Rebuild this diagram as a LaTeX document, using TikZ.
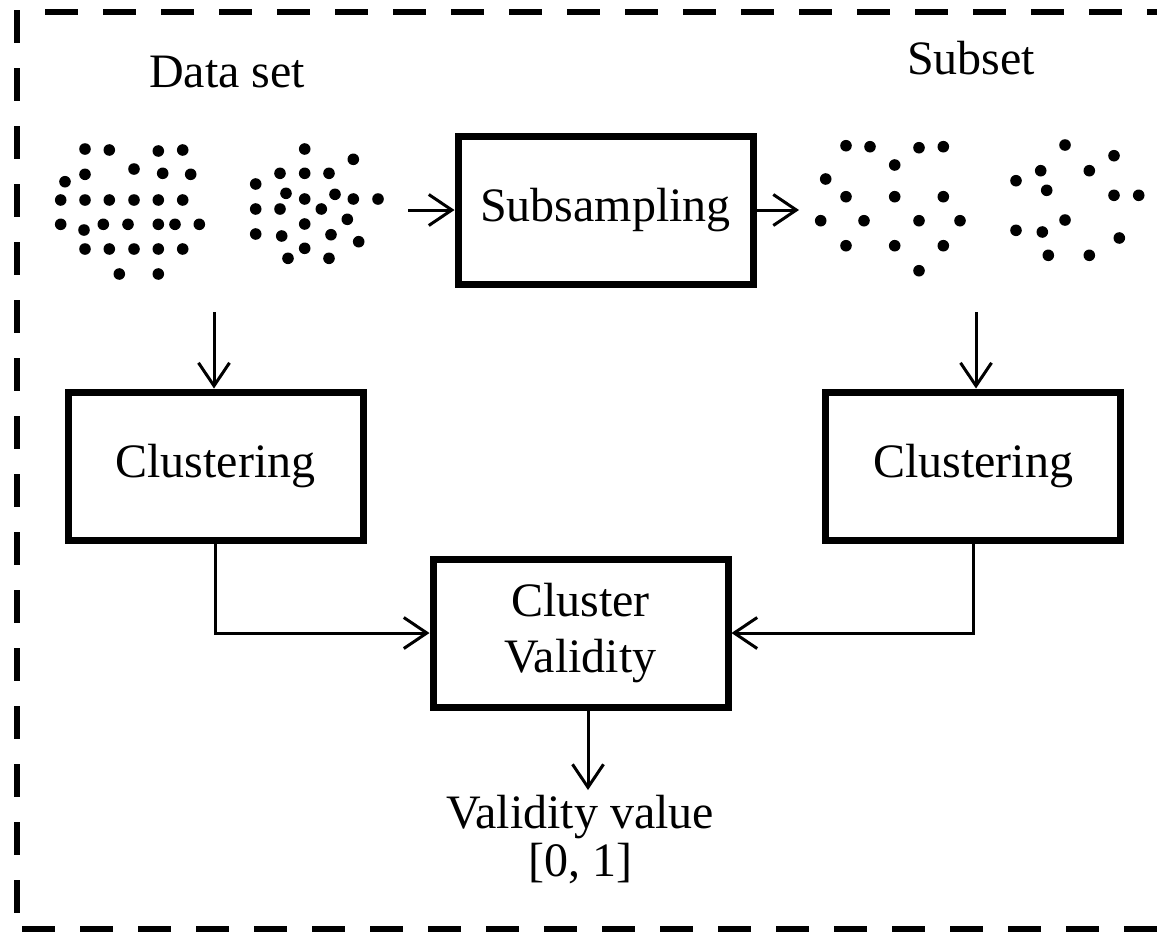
\documentclass[tikz,border=0pt]{standalone}
\usepackage{fontspec}
\setmainfont{Liberation Serif}
\usetikzlibrary{arrows.meta}

\tikzset{
  block/.style={draw, line width=3.5pt, minimum width=147.5pt, minimum height=74pt, align=center, inner sep=0pt},
  conn/.style={line width=1.5pt, -{Straight Barb[length=11.5pt,width=15.5pt,line width=1.5pt]}},
  frame/.style={line width=3pt, dash pattern=on 16.5pt off 12.5pt},
}

\begin{document}
\begin{tikzpicture}[x=0.5pt, y=-0.5pt, font=\fontsize{24}{30}\selectfont]
\useasboundingbox (0,0) rectangle (1157,932);
\draw[frame] (17,10) -- (17,929);
\draw[frame] (45,12) -- (1180,12);
\draw[frame] (22,929) -- (1180,929);

% data set
\foreach \px/\py in {85/149,109.3/150,158.3/151,182.7/150,134/169,85/174.3,162.7/173.3,190.7/174.3,
  65/181.7,60.7/200,85/200,109.3/200,134/200,158.3/200,182.7/200,
  60.7/224.3,84/230,103.3/224.3,128/224.3,158.3/224.3,175/224.3,199.3/224.3,
  85/249,109.3/249,134/249,158.3/249,182.7/249,119.3/274,158.3/274}
  \fill (\px,\py) circle (2.9pt);
\foreach \px/\py in {304.7/149,353.3/159.3,280/173.3,304.7/173.3,329/173.3,255.7/184,286/193.3,
  304.7/199,335/194.3,353.3/199,378/199,255.7/209,280/209,321.3/209,347.3/219.3,
  255.7/234,281.7/236,304.7/224,331/234.7,358.7/241.7,304.7/248.3,288/258.3,329/258.3}
  \fill (\px,\py) circle (2.9pt);
% subset
\foreach \px/\py in {846/145.7,870/146.7,919/147.7,943.3/146.7,894.7/165,825.7/179,846/196.7,
  894.7/196.7,943.3/196.7,820.7/220.7,864/220.7,919/220.7,960/220.7,846/245.7,894.7/245.7,
  943.3/245.7,919/270.7}
  \fill (\px,\py) circle (2.9pt);
\foreach \px/\py in {1065/145,1114/155.7,1040.7/170.7,1089.3/170.7,1016/180.7,1046.7/190.3,
  1114/195.3,1138.7/195.3,1065/220,1016/230.3,1042.3/232,1119.3/238,1048.3/255.3,1089.3/255.3}
  \fill (\px,\py) circle (2.9pt);

\node (data) at (227,72) {Data set};
\node (subset) at (971,58) {Subset};

\node[block] (sub) at (605.5,210) {Subsampling};
\node[block] (clu1) at (215.5,466) {Clustering};
\node[block] (clu2) at (973,466) {Clustering};
\node[block, font=\fontsize{24}{31}\selectfont] (val) at (580.5,633) {\raisebox{-3pt}{Cluster}\\Validity};
\node[align=center, font=\fontsize{24}{24}\selectfont] (out) at (580,840) {Validity value\\{[0, 1]}};

\coordinate (sin) at (408,210);
\coordinate (sout) at (799,210);
\coordinate (dtop) at (214,312);
\coordinate (stop) at (976,312);
\coordinate (vend) at (588,790);

\draw[conn] (sin) -- (sin -| sub.west);
\draw[conn] (sub.east |- sout) -- (sout);
\draw[conn] (dtop) -- (dtop |- clu1.north);
\draw[conn] (stop) -- (stop |- clu2.north);
\draw[conn] (clu1.south) |- (val.west);
\draw[conn] (clu2.south) |- (val.east);
\draw[conn] (val.south -| vend) -- (vend);
\end{tikzpicture}
\end{document}
